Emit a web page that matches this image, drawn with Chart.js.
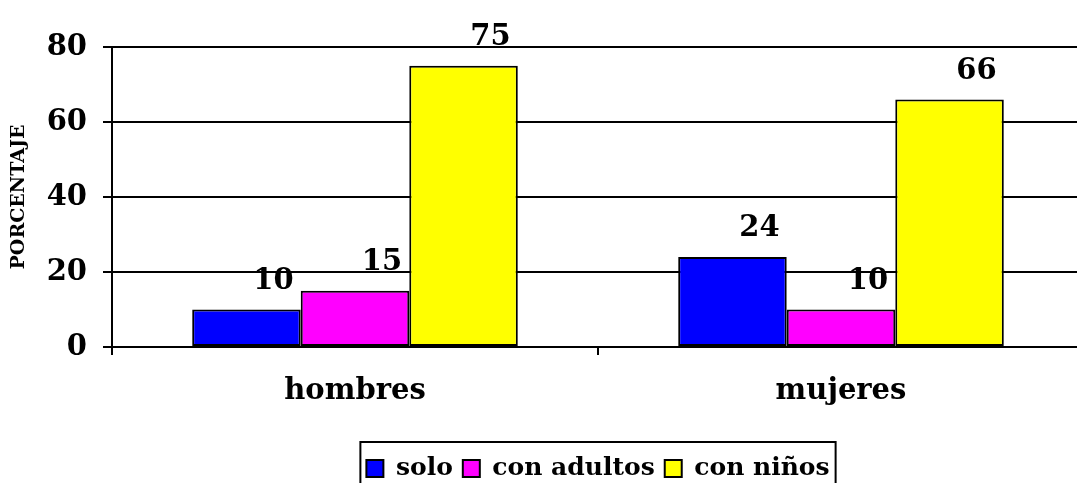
<!DOCTYPE html>
<html lang="es">
<head>
    <meta charset="UTF-8">
    <title>Porcentaje por grupo</title>
    <script src="https://cdn.jsdelivr.net/npm/chart.js@4.4.1/dist/chart.umd.min.js"></script>
    <style>
        html, body {
            margin: 0;
            padding: 0;
            background: #fff;
            overflow: hidden;
        }
        #chart {
            display: block;
        }
    </style>
</head>
<body>
    <canvas id="chart" width="1090" height="483"></canvas>

    <script>
        const categorias = ['hombres', 'mujeres'];
        const solo = [10, 24];
        const conAdultos = [15, 10];
        const conNinos = [75, 66];
        const ticksY = [0, 20, 40, 60, 80];

        const fuente = "'DejaVu Serif', serif";

        // etiquetas de valor encima de cada barra (un poco a la derecha, como en el original)
        const etiquetas = {
            id: 'etiquetas',
            afterDatasetsDraw(chart) {
                const ctx = chart.ctx;
                ctx.save();
                ctx.font = 'bold 29px ' + fuente;
                ctx.fillStyle = '#000';
                ctx.textAlign = 'center';
                ctx.textBaseline = 'alphabetic';
                chart.data.datasets.forEach((ds, i) => {
                    chart.getDatasetMeta(i).data.forEach((bar, j) => {
                        ctx.fillText(String(ds.data[j]), bar.x + 27, bar.y - 21);
                    });
                });
                ctx.restore();
            }
        };

        // mueve la leyenda y le pone un marco
        const marcoLeyenda = {
            id: 'marcoLeyenda',
            afterUpdate(chart) {
                const lg = chart.legend;
                const dx = 598 - (lg.left + lg.right) / 2;
                const dy = 8;
                lg.left += dx; lg.right += dx;
                lg.top += dy; lg.bottom += dy;
                lg.adjustHitBoxes();
            },
            afterDraw(chart) {
                const hb = chart.legend.legendHitBoxes;
                if (!hb || !hb.length) return;
                const ctx = chart.ctx;
                const x0 = hb[0].left - 6;
                const x1 = hb[hb.length - 1].left + hb[hb.length - 1].width + 6;
                ctx.save();
                ctx.strokeStyle = '#000';
                ctx.lineWidth = 2;
                ctx.strokeRect(x0, 442, x1 - x0, 60);
                ctx.restore();
            }
        };

        new Chart(document.getElementById('chart'), {
            type: 'bar',
            data: {
                labels: categorias,
                datasets: [
                    { label: 'solo', data: solo, backgroundColor: '#0000FF' },
                    { label: 'con adultos', data: conAdultos, backgroundColor: '#FF00FF' },
                    { label: 'con niños', data: conNinos, backgroundColor: '#FFFF00' }
                ]
            },
            options: {
                responsive: false,
                animation: false,
                layout: { padding: { top: 47, right: 6, left: 0, bottom: 0 } },
                datasets: {
                    bar: {
                        borderColor: '#000',
                        borderWidth: 2,
                        borderSkipped: false,
                        categoryPercentage: 0.67,
                        barPercentage: 1
                    }
                },
                scales: {
                    x: {
                        grid: {
                            display: true,
                            drawOnChartArea: false,
                            drawTicks: true,
                            tickLength: 8,
                            color: '#000',
                            lineWidth: 2
                        },
                        border: { color: '#000', width: 2 },
                        ticks: {
                            color: '#000',
                            padding: 19,
                            font: { family: fuente, weight: 'bold', size: 29 }
                        },
                        afterFit(scale) { scale.height = 91; }
                    },
                    y: {
                        min: 0,
                        max: 80,
                        afterBuildTicks(scale) {
                            scale.ticks = ticksY.map(v => ({ value: v }));
                        },
                        grid: {
                            color: '#000',
                            lineWidth: 2,
                            tickLength: 9
                        },
                        border: { color: '#000', width: 2 },
                        ticks: {
                            color: '#000',
                            padding: 16,
                            font: { family: fuente, weight: 'bold', size: 29 }
                        },
                        title: {
                            display: true,
                            text: 'PORCENTAJE',
                            color: '#000',
                            padding: { top: 8, bottom: 0 },
                            font: { family: fuente, weight: 'bold', size: 19 }
                        },
                        afterFit(scale) { scale.width = 112; }
                    }
                },
                plugins: {
                    legend: {
                        position: 'bottom',
                        labels: {
                            color: '#000',
                            boxWidth: 17,
                            boxHeight: 17,
                            padding: 10,
                            font: { family: fuente, weight: 'bold', size: 25 }
                        }
                    },
                    tooltip: { enabled: false }
                }
            },
            plugins: [etiquetas, marcoLeyenda]
        });
    </script>
</body>
</html>
